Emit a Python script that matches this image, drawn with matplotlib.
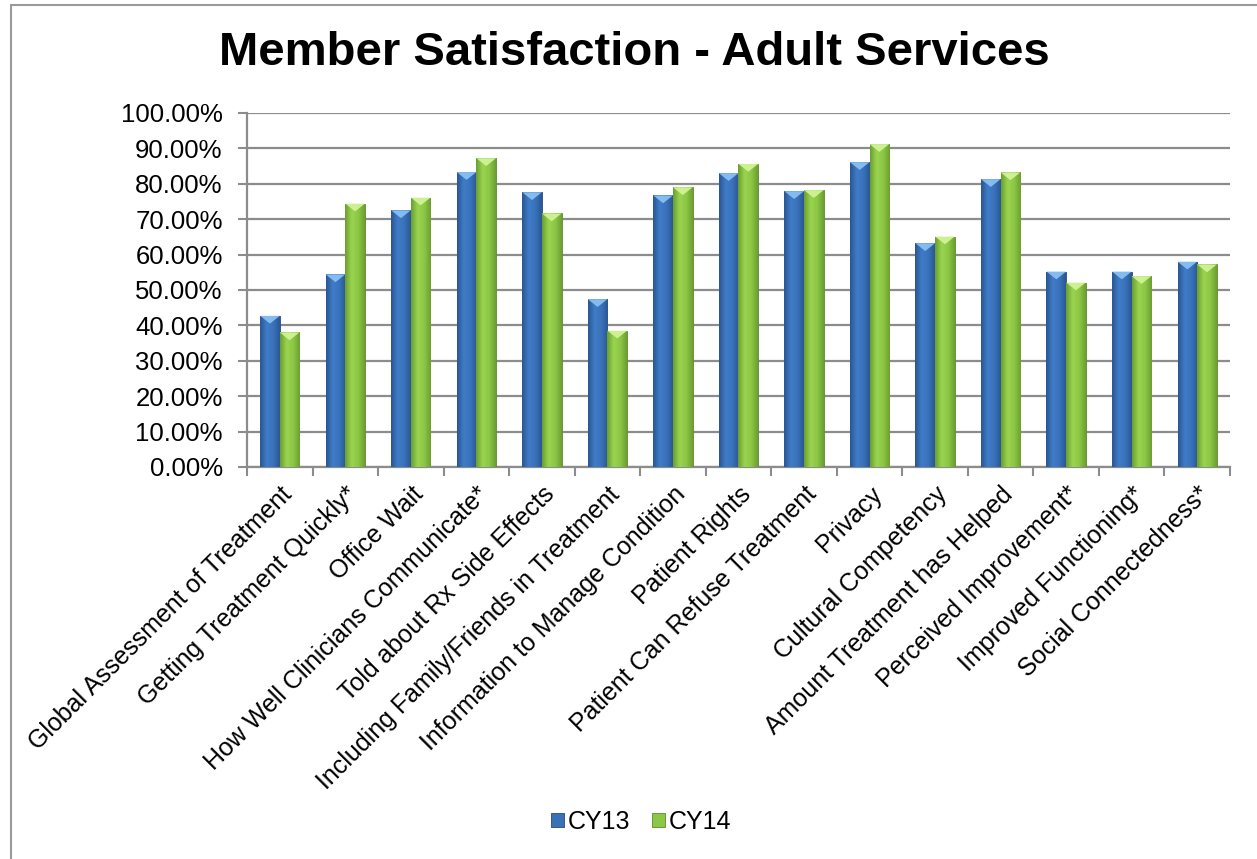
import matplotlib.pyplot as plt
import numpy as np
from matplotlib.patches import Rectangle, Polygon
from matplotlib.colors import LinearSegmentedColormap

plt.rcParams['font.family'] = ['Liberation Sans', 'DejaVu Sans']

# 数据
categories = ['Global Assessment of Treatment', 'Getting Treatment Quickly*', 'Office Wait',
              'How Well Clinicians Communicate*', 'Told about Rx Side Effects',
              'Including Family/Friends in Treatment', 'Information to Manage Condition',
              'Patient Rights', 'Patient Can Refuse Treatment', 'Privacy', 'Cultural Competency',
              'Amount Treatment has Helped', 'Perceived Improvement*', 'Improved Functioning*',
              'Social Connectedness*']
cy13 = [42.7, 54.4, 72.5, 83.3, 77.6, 47.4, 76.7, 83.0, 77.9, 86.1, 63.2, 81.3, 55.2, 55.2, 58.0]
cy14 = [38.0, 74.4, 76.1, 87.2, 71.6, 38.5, 79.0, 85.6, 78.2, 91.2, 65.1, 83.2, 52.1, 53.9, 57.2]
series = ['CY13', 'CY14']

fig = plt.figure(figsize=(12.57, 8.59), dpi=100)
ax = fig.add_axes([0.1965, 0.4564, 0.782, 0.4121])

# 外框
fig.patches.append(Rectangle((11 / 1257, -0.1), 1.2, 0.1 + 1 - 5 / 859, transform=fig.transFigure,
                             fill=False, edgecolor='#9a9a9a', linewidth=1.5))

x = np.arange(len(categories))
w = 0.3
blue_cmap = LinearSegmentedColormap.from_list('b', ['#2a5691', '#3f7cc8', '#3a73bb', '#2a5794'])
green_cmap = LinearSegmentedColormap.from_list('g', ['#6a9e2f', '#9ad450', '#8cc745', '#6c9f31'])
top_cols = ['#8cc4f5', '#d4f59a']

for vals, off, cmap, edge, tc, lab, face in [
        (cy13, -w / 2, blue_cmap, '#244a7c', top_cols[0], series[0], '#3a70b8'),
        (cy14, w / 2, green_cmap, '#5d8a2a', top_cols[1], series[1], '#8cc845')]:
    bars = ax.bar(x + off, vals, width=w, color=face, edgecolor=edge, linewidth=0.6,
                  label=lab, zorder=3)
    grad = np.linspace(0, 1, 64).reshape(1, -1)
    for b in bars:
        bx, by = b.get_x(), b.get_y()
        bw, bh = b.get_width(), b.get_height()
        im = ax.imshow(grad, cmap=cmap, aspect='auto', extent=[bx, bx + bw, by, by + bh],
                       zorder=3.5, interpolation='bicubic')
        im.set_clip_path(b)
        tri = Polygon([[bx, by + bh], [bx + bw, by + bh], [bx + bw / 2, by + bh - 2.2]],
                      closed=True, facecolor=tc, edgecolor='none', zorder=4, alpha=0.9)
        ax.add_patch(tri)

ax.set_xlim(-0.5, len(categories) - 0.5)
ax.set_ylim(0, 100)
ax.set_yticks(np.arange(0, 101, 10))
ax.set_yticklabels(['%.2f%%' % v for v in np.arange(0, 101, 10)], fontsize=18.5)
ax.yaxis.grid(True, color='#8c8c8c', linewidth=1.6, zorder=0)
ax.set_axisbelow(True)

ax.set_xticks(x)
ax.set_xticklabels(categories, rotation=45, ha='right', rotation_mode='anchor', fontsize=18)
ax.tick_params(axis='x', length=0, pad=11)
ax.set_xticks(np.arange(-0.5, len(categories), 1), minor=True)
ax.tick_params(axis='x', which='minor', length=6.5, color='#8c8c8c', width=1.5)
ax.tick_params(axis='y', length=6.5, color='#8c8c8c', width=1.5, pad=11)

for s in ['top', 'right']:
    ax.spines[s].set_visible(False)
for s in ['left', 'bottom']:
    ax.spines[s].set_color('#8c8c8c')
    ax.spines[s].set_linewidth(1.6)

fig.text(0.505, 0.938, 'Member Satisfaction - Adult Services', ha='center', va='center',
         fontsize=34, fontweight='bold')

fig.legend(loc='center', bbox_to_anchor=(0.51, 0.043), ncol=2, frameon=False, fontsize=18,
           handlelength=0.52, handleheight=0.52, handletextpad=0.15, columnspacing=0.9)

fig.savefig('out.png', dpi=100)
